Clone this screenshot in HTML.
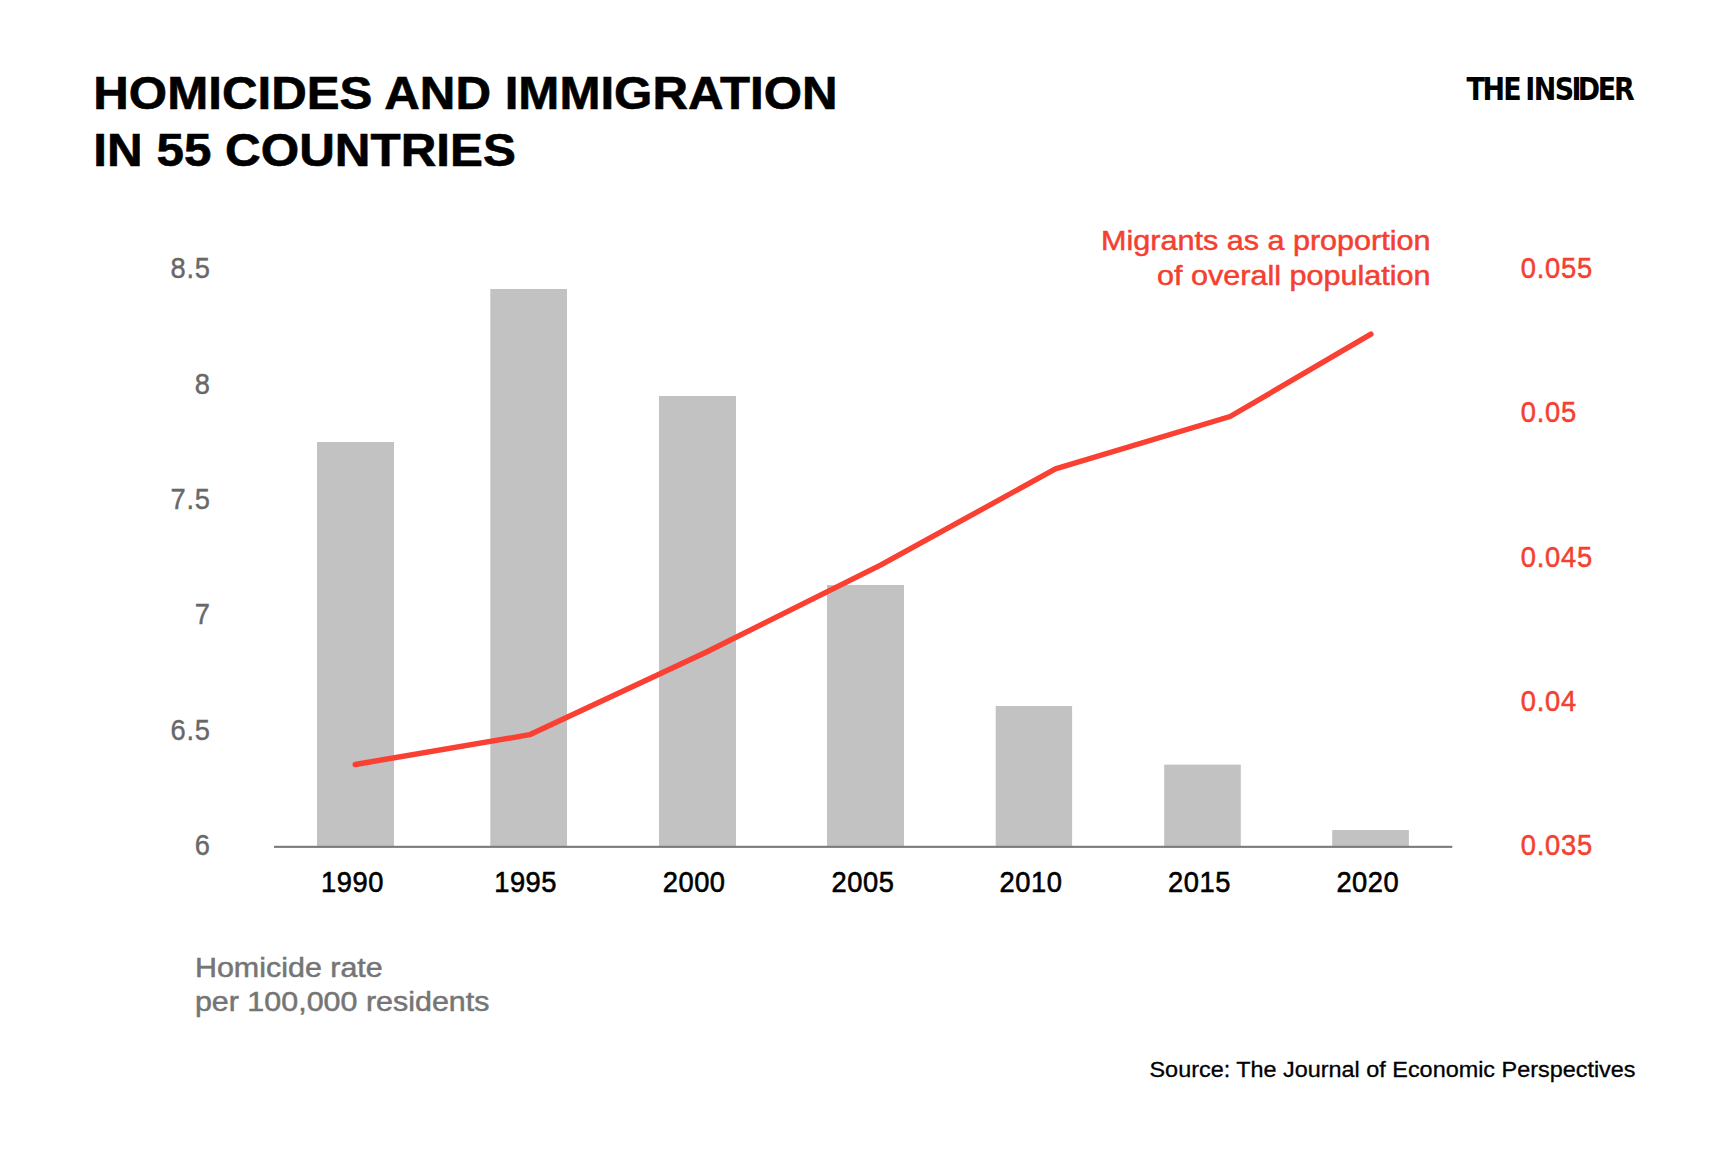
<!DOCTYPE html>
<html lang="en">
<head>
<meta charset="utf-8">
<title>Homicides and immigration in 55 countries</title>
<style>
  html, body { margin: 0; padding: 0; background: #ffffff; }
  body { width: 1732px; height: 1155px; overflow: hidden; }
  svg { display: block; }
  text { font-family: "Liberation Sans", Arial, Helvetica, sans-serif; }
  .title { font-weight: 700; font-size: 46.5px; fill: #000000; text-anchor: start; stroke: #000000; stroke-width: 0.6px; }
  .title2 { font-weight: 700; font-size: 46.5px; fill: #000000; text-anchor: start; stroke: #000000; stroke-width: 0.6px; }
  .logo { font-family: "DejaVu Sans", "Liberation Sans", sans-serif; font-weight: 700; font-size: 31.7px; fill: #000000; }
  .ytick { font-weight: 400; font-size: 29.2px; fill: #686868; text-anchor: end; stroke: #686868; stroke-width: 0.4px; letter-spacing: 0.8px; }
  .rtick { font-weight: 400; font-size: 29.2px; fill: #f44030; text-anchor: start; stroke: #f44030; stroke-width: 0.5px; letter-spacing: 0.8px; }
  .xtick { font-weight: 400; font-size: 29.2px; fill: #000000; text-anchor: start; stroke: #000000; stroke-width: 0.6px; letter-spacing: 0.55px; }
  .nred { font-weight: 400; font-size: 28px; fill: #f44030; text-anchor: end; stroke: #f44030; stroke-width: 0.5px; }
  .ngrey { font-weight: 400; font-size: 28px; fill: #757575; text-anchor: start; stroke: #757575; stroke-width: 0.5px; }
  .source { font-weight: 400; font-size: 22.2px; fill: #000000; text-anchor: end; stroke: #000000; stroke-width: 0.3px; }
</style>
</head>
<body>
<svg width="1732" height="1155" viewBox="0 0 1732 1155">
  <rect x="0" y="0" width="1732" height="1155" fill="#ffffff"/>

  <!-- Title -->
  <text class="title" transform="translate(93.3,109.4) scale(1.0596,1)">HOMICIDES AND IMMIGRATION</text>
  <text class="title2" transform="translate(93.3,165.9) scale(1.0623,1)">IN 55 COUNTRIES</text>

  <!-- Logo -->
  <text class="logo" transform="scale(0.85,1)" y="99.9" x="1725.4 1744.1 1768.4 1789.4 1794.3 1804.3 1829.0 1848.8 1856.2 1879.6 1898.7">THE INSIDER</text>

  <!-- Bars -->
  <g fill="#c2c2c2">
    <rect x="317" y="442" width="77" height="405"/>
    <rect x="490.3" y="289" width="76.7" height="558"/>
    <rect x="659" y="396" width="77" height="451"/>
    <rect x="827" y="585" width="77" height="262"/>
    <rect x="995.7" y="706" width="76.4" height="141"/>
    <rect x="1164.2" y="764.6" width="76.6" height="82.4"/>
    <rect x="1332.2" y="830" width="76.7" height="17"/>
  </g>

  <!-- Axis -->
  <rect x="274" y="845.8" width="1178.3" height="2.1" fill="#7b7b7b"/>

  <!-- Line -->
  <polyline fill="none" stroke="#fa4032" stroke-width="5.4" stroke-linecap="round" stroke-linejoin="round"
    points="355.2,764.5 529.6,734.7 705.5,652.5 880.5,565.2 1055.4,468.9 1230.1,416.5 1370.9,334.2"/>

  <!-- Left ticks -->
  <text class="ytick" transform="translate(210.7,278.0) scale(0.935,1)">8.5</text>
  <text class="ytick" transform="translate(210.7,393.9) scale(0.935,1)">8</text>
  <text class="ytick" transform="translate(210.7,508.8) scale(0.935,1)">7.5</text>
  <text class="ytick" transform="translate(210.7,624.2) scale(0.935,1)">7</text>
  <text class="ytick" transform="translate(210.7,739.6) scale(0.935,1)">6.5</text>
  <text class="ytick" transform="translate(210.7,855.0) scale(0.935,1)">6</text>

  <!-- Right ticks -->
  <text class="rtick" transform="translate(1520.8,277.9) scale(0.935,1)">0.055</text>
  <text class="rtick" transform="translate(1520.8,422.2) scale(0.935,1)">0.05</text>
  <text class="rtick" transform="translate(1520.8,566.5) scale(0.935,1)">0.045</text>
  <text class="rtick" transform="translate(1520.8,710.9) scale(0.935,1)">0.04</text>
  <text class="rtick" transform="translate(1520.8,855.3) scale(0.935,1)">0.035</text>

  <!-- X ticks -->
  <text class="xtick" transform="translate(321.1,891.6) scale(0.935,1)">1990</text>
  <text class="xtick" transform="translate(494.2,891.6) scale(0.935,1)">1995</text>
  <text class="xtick" transform="translate(662.8,891.6) scale(0.935,1)">2000</text>
  <text class="xtick" transform="translate(831.6,891.6) scale(0.935,1)">2005</text>
  <text class="xtick" transform="translate(999.6,891.6) scale(0.935,1)">2010</text>
  <text class="xtick" transform="translate(1168.1,891.6) scale(0.935,1)">2015</text>
  <text class="xtick" transform="translate(1336.4,891.6) scale(0.935,1)">2020</text>

  <!-- Notes -->
  <text class="nred" transform="translate(1430.5,250.2) scale(1.092,1)">Migrants as a proportion</text>
  <text class="nred" transform="translate(1430.5,284.9) scale(1.092,1)">of overall population</text>
  <text class="ngrey" transform="translate(194.9,976.9) scale(1.0875,1)">Homicide rate</text>
  <text class="ngrey" transform="translate(194.9,1011.4) scale(1.0875,1)">per 100,000 residents</text>
  <text class="source" transform="translate(1635.5,1076.5) scale(1.055,1)">Source: The Journal of Economic Perspectives</text>
</svg>
</body>
</html>
